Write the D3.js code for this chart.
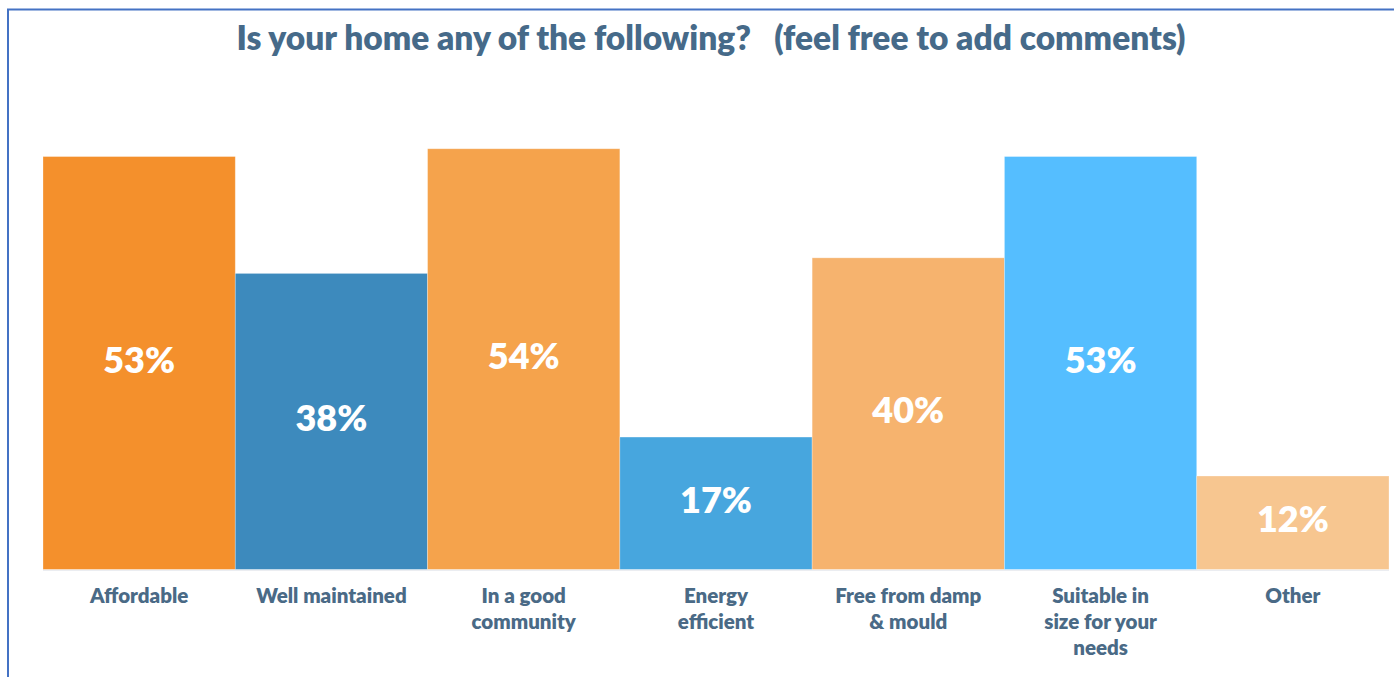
<!DOCTYPE html>
<html>
<head>
<meta charset="utf-8">
<script src="https://cdn.jsdelivr.net/npm/d3@7/dist/d3.min.js"></script>
<style>
  html, body { margin: 0; padding: 0; background: #ffffff; }
  svg { display: block; }
  text { font-family: Lato, "Open Sans", sans-serif; font-weight: 800; }
</style>
</head>
<body>
<svg id="chart" width="1394" height="677"></svg>
<script>
// Survey answers: share of respondents saying their home is each of these
const categories = [
  ["Affordable"],
  ["Well maintained"],
  ["In a good", "community"],
  ["Energy", "efficient"],
  ["Free from damp", "& mould"],
  ["Suitable in", "size for your", "needs"],
  ["Other"]
];
const values = [53, 38, 54, 17, 40, 53, 12];
const barColors = ["#f4902c", "#3d8abd", "#f5a34c", "#47a6de", "#f6b36e", "#55beff", "#f7c690"];
const titleText = "Is your home any of the following?   (feel free to add comments)";

const width = 1394, height = 677;
const margin = { top: 102, right: 5, bottom: 107.5, left: 43 };

const svg = d3.select("#chart");

// frame lines along the top and left
svg.append("line")
  .attr("x1", 7).attr("x2", width).attr("y1", 9.5).attr("y2", 9.5)
  .attr("stroke", "#4472c4").attr("stroke-width", 2);
svg.append("line")
  .attr("x1", 8).attr("x2", 8).attr("y1", 9.5).attr("y2", height)
  .attr("stroke", "#4472c4").attr("stroke-width", 2);

const keys = categories.map(c => c.join(" "));

const x = d3.scaleBand()
  .domain(keys)
  .range([margin.left, width - margin.right])
  .paddingInner(0).paddingOuter(0);

const y = d3.scaleLinear()
  .domain([0, 60])
  .range([height - margin.bottom, margin.top]);

const data = keys.map((k, i) => ({ key: k, lines: categories[i], value: values[i], color: barColors[i] }));

// bars
svg.append("g").selectAll("rect")
  .data(data)
  .join("rect")
  .attr("x", d => x(d.key))
  .attr("width", x.bandwidth())
  .attr("y", d => y(d.value))
  .attr("height", d => y(0) - y(d.value))
  .attr("fill", d => d.color)
  .attr("stroke", "rgba(255,255,255,0.35)")
  .attr("stroke-width", 0.8);

// baseline
svg.append("line")
  .attr("x1", x.range()[0]).attr("x2", x.range()[1])
  .attr("y1", y(0) + 0.8).attr("y2", y(0) + 0.8)
  .attr("stroke", "#e6e9ee").attr("stroke-width", 1);

// value labels centred inside each bar
svg.append("g").selectAll("text")
  .data(data)
  .join("text")
  .attr("x", d => x(d.key) + x.bandwidth() / 2)
  .attr("y", d => (y(d.value) + y(0)) / 2 + 9.5)
  .attr("text-anchor", "middle")
  .attr("fill", "#ffffff")
  .attr("font-size", 36)
  .text(d => d.value + "%");

// category axis labels
const xAxis = d3.axisBottom(x).tickSize(0).tickFormat("");
const axisG = svg.append("g")
  .attr("transform", `translate(0,${y(0)})`)
  .call(xAxis);
axisG.select(".domain").remove();
axisG.selectAll(".tick").each(function(k, i) {
  const t = d3.select(this).append("text")
    .attr("text-anchor", "middle")
    .attr("fill", "#4a6a86")
    .attr("font-size", 20.5)
    .attr("y", 33);
  categories[i].forEach((line, j) => {
    t.append("tspan").attr("x", 0).attr("dy", j === 0 ? 0 : 26).text(line);
  });
});

// title
svg.append("text")
  .attr("x", (x.range()[0] + x.range()[1]) / 2 - 5)
  .attr("y", 50)
  .attr("text-anchor", "middle")
  .attr("fill", "#466a89")
  .attr("font-size", 33.5)
  .style("white-space", "pre")
  .text(titleText);
</script>
</body>
</html>
